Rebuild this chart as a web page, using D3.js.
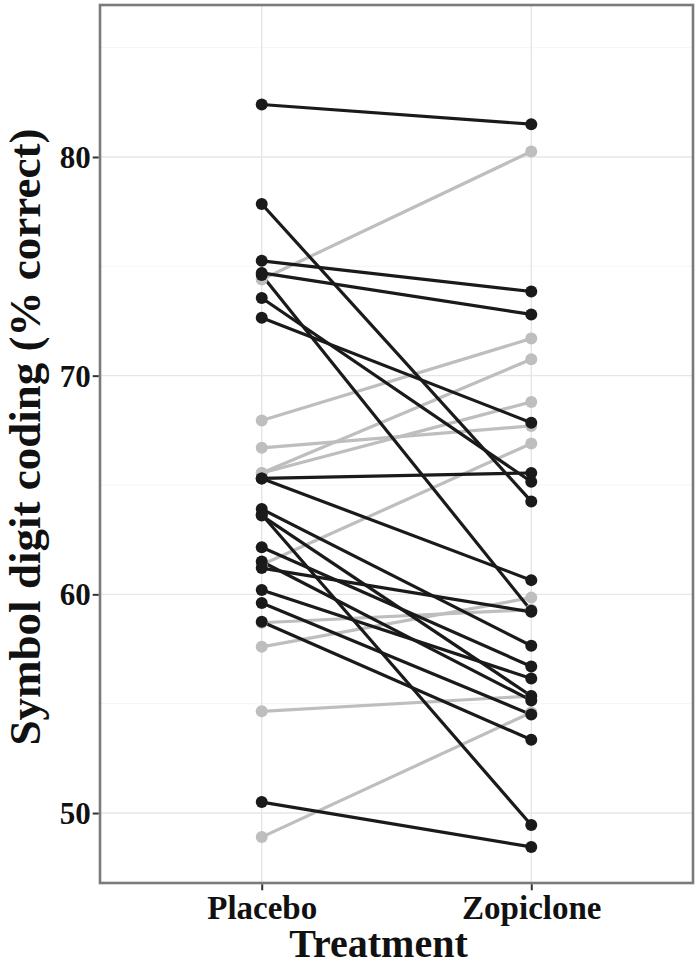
<!DOCTYPE html>
<html lang="en">
<head>
    <meta charset="UTF-8">
    <title>Symbol digit coding: Placebo vs Zopiclone</title>
    <script src="https://d3js.org/d3.v7.min.js"></script>
    <style>
        body { margin: 0; background: #fff; }
        text { font-family: "Liberation Serif", "Times New Roman", serif; font-weight: bold; fill: #111; }
    </style>
</head>
<body>
    <svg width="700" height="970"></svg>

    <script>
        // Treatments on the x axis
        const treatments = ["Placebo", "Zopiclone"];
        const yTicks = [50, 60, 70, 80];
        const yMinor = [55, 65, 75, 85];

        // Participants whose score dropped (dark) : placebo -> zopiclone
        const darkPlacebo   = [82.4, 77.85, 75.25, 74.7, 74.6, 73.55, 72.65, 65.3, 65.3, 63.9, 63.65, 63.6, 62.15, 61.5, 61.2, 60.2, 59.6, 58.75, 50.5];
        const darkZopiclone = [81.5, 64.25, 73.85, 72.8, 59.25, 65.15, 67.85, 65.55, 60.65, 57.65, 49.45, 55.35, 56.7, 55.15, 59.2, 56.15, 54.5, 53.35, 48.45];

        // Participants whose score rose (light)
        const lightPlacebo   = [74.4, 67.95, 66.7, 65.55, 65.55, 61.35, 58.7, 57.6, 54.65, 48.9];
        const lightZopiclone = [80.25, 71.7, 67.7, 70.75, 68.8, 66.9, 59.3, 59.85, 55.35, 54.6];

        const svg = d3.select("svg");
        const panel = { left: 100, right: 693, top: 5, bottom: 883 };

        // ggplot-like discrete expansion of 0.6 on each side
        const x = d3.scaleLinear().domain([0.4, 2.6]).range([panel.left, panel.right]);
        const xPos = d => x(treatments.indexOf(d) + 1);
        const y = d3.scaleLinear().domain([46.8, 86.95]).range([panel.bottom, panel.top]);

        const pairs = (a, b, col) => a.map((v, i) => ({ p: v, z: b[i], col }));
        const light = pairs(lightPlacebo, lightZopiclone, "#bebebe");
        const dark = pairs(darkPlacebo, darkZopiclone, "#1a1a1a");
        const all = light.concat(dark);

        // grid
        const g = svg.append("g");
        g.selectAll(".minor").data(yMinor).enter().append("line")
            .attr("x1", panel.left).attr("x2", panel.right)
            .attr("y1", d => y(d)).attr("y2", d => y(d))
            .attr("stroke", "#f2f2f2").attr("stroke-width", 0.8);
        g.selectAll(".major").data(yTicks).enter().append("line")
            .attr("x1", panel.left).attr("x2", panel.right)
            .attr("y1", d => y(d)).attr("y2", d => y(d))
            .attr("stroke", "#e6e6e6").attr("stroke-width", 1.4);
        g.selectAll(".vmajor").data(treatments).enter().append("line")
            .attr("x1", d => xPos(d)).attr("x2", d => xPos(d))
            .attr("y1", panel.top).attr("y2", panel.bottom)
            .attr("stroke", "#e6e6e6").attr("stroke-width", 1.4);

        // lines then points
        svg.append("g").selectAll("line").data(all).enter().append("line")
            .attr("x1", xPos("Placebo")).attr("x2", xPos("Zopiclone"))
            .attr("y1", d => y(d.p)).attr("y2", d => y(d.z))
            .attr("stroke", d => d.col).attr("stroke-width", 3.2);

        const pts = svg.append("g");
        all.forEach(d => {
            pts.append("circle").attr("cx", xPos("Placebo")).attr("cy", y(d.p)).attr("r", 6).attr("fill", d.col);
            pts.append("circle").attr("cx", xPos("Zopiclone")).attr("cy", y(d.z)).attr("r", 6).attr("fill", d.col);
        });

        // panel border
        svg.append("rect")
            .attr("x", panel.left).attr("y", panel.top)
            .attr("width", panel.right - panel.left).attr("height", panel.bottom - panel.top)
            .attr("fill", "none").attr("stroke", "#7a7a7a").attr("stroke-width", 2.6);

        // axes
        const yAxis = svg.append("g")
            .attr("transform", `translate(${panel.left - 1.3},0)`)
            .call(d3.axisLeft(y).tickValues(yTicks).tickSize(6).tickPadding(2));
        yAxis.select(".domain").remove();
        yAxis.selectAll(".tick line").attr("stroke", "#333").attr("stroke-width", 2);
        yAxis.selectAll(".tick text").style("font-size", "31px").attr("fill", "#111")
            .attr("font-family", "Liberation Serif").attr("font-weight", "bold").attr("dy", "0.34em");

        const xAxis = svg.append("g")
            .attr("transform", `translate(0,${panel.bottom + 1.3})`)
            .call(d3.axisBottom(d3.scalePoint().domain(treatments).range([xPos("Placebo"), xPos("Zopiclone")]))
                .tickSize(6).tickPadding(4));
        xAxis.select(".domain").remove();
        xAxis.selectAll(".tick line").attr("stroke", "#333").attr("stroke-width", 2);
        xAxis.selectAll(".tick text").style("font-size", "33px").attr("fill", "#111")
            .attr("font-family", "Liberation Serif").attr("font-weight", "bold").attr("dy", "0.75em");

        // titles
        svg.append("text")
            .attr("x", (panel.left + panel.right) / 2 - 18).attr("y", 957)
            .attr("text-anchor", "middle").style("font-size", "40px")
            .text("Treatment");

        svg.append("text")
            .attr("transform", `translate(40,437) rotate(-90)`)
            .attr("text-anchor", "middle").style("font-size", "45px")
            .attr("textLength", 617).attr("lengthAdjust", "spacingAndGlyphs")
            .text("Symbol digit coding (% correct)");
    </script>
</body>
</html>
